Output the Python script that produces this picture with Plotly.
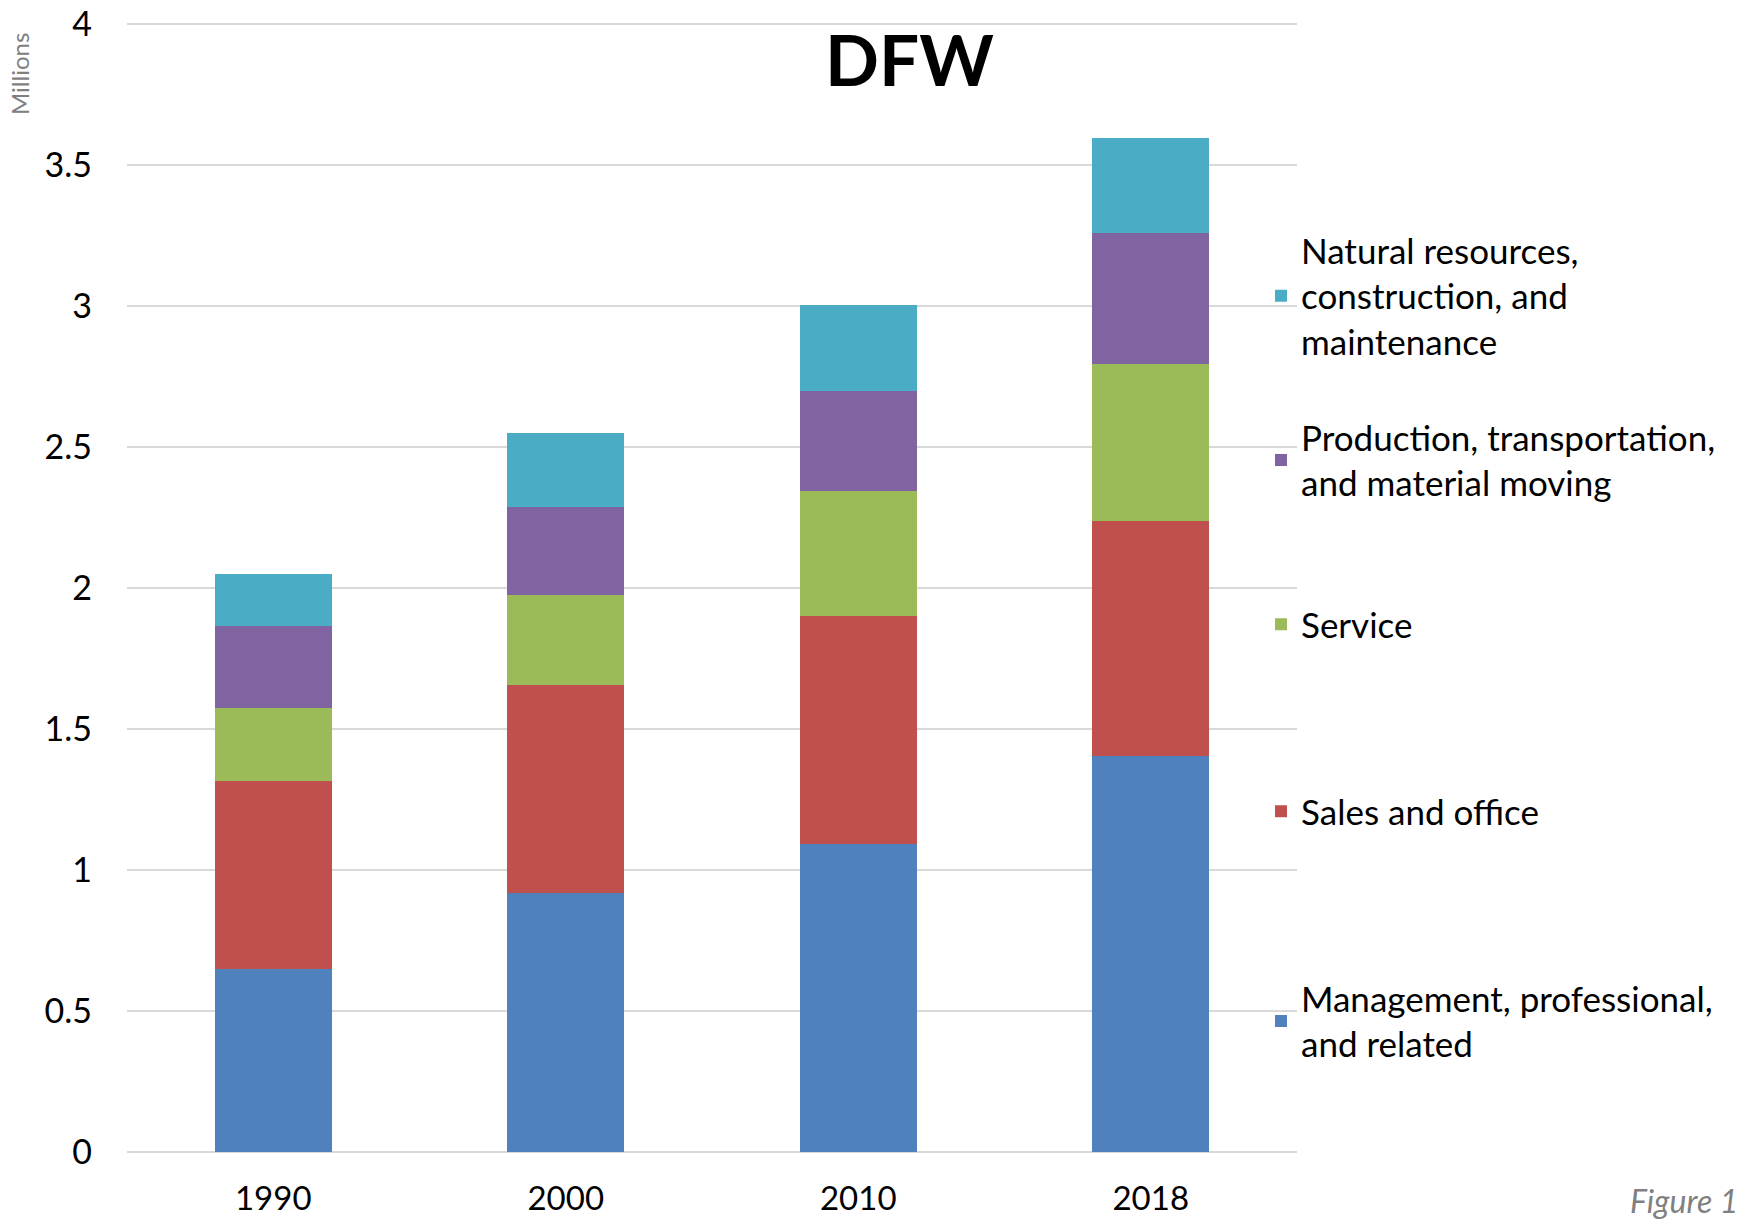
import plotly.graph_objects as go

# Occupation employment in DFW, millions of workers
YEARS = ["1990", "2000", "2010", "2018"]
MANAGEMENT = [0.648, 0.920, 1.092, 1.404]
SALES = [0.667, 0.736, 0.808, 0.833]
SERVICE = [0.258, 0.319, 0.445, 0.556]
PRODUCTION = [0.291, 0.313, 0.354, 0.464]
NATURAL = [0.187, 0.262, 0.305, 0.338]

SERIES = [
    ("Management, professional,<br>and related", MANAGEMENT, "#4F81BD"),
    ("Sales and office", SALES, "#C0504D"),
    ("Service", SERVICE, "#9BBB59"),
    ("Production, transportation,<br>and material moving", PRODUCTION, "#8064A2"),
    ("Natural resources,<br>construction, and<br>maintenance", NATURAL, "#4BACC6"),
]

FONT = "Lato, 'Open Sans', sans-serif"

W, H = 1738, 1219
PLOT_L, PLOT_R, PLOT_T, PLOT_B = 127, 1297, 21, 1152


def px_x(x):
    return (x - PLOT_L) / (PLOT_R - PLOT_L)


def px_y(y):
    return (PLOT_B - y) / (PLOT_B - PLOT_T)


fig = go.Figure()

legend_names = ["legend5", "legend4", "legend3", "legend2", "legend"]
for (name, vals, color), lg in zip(SERIES, legend_names):
    fig.add_trace(
        go.Bar(
            x=YEARS,
            y=vals,
            name=name,
            marker=dict(color=color, line=dict(width=0)),
            legend=lg,
        )
    )

# One legend per series so the entries can be spaced like the original
first_line_px = [252, 439, 626, 813, 1000]
legends = {}
for lg, ypx in zip(["legend", "legend2", "legend3", "legend4", "legend5"], first_line_px):
    legends[lg] = dict(
        x=px_x(1261),
        xanchor="left",
        y=px_y(ypx - 31),
        yanchor="top",
        font=dict(family=FONT, size=35, color="#000000"),
        bgcolor="rgba(0,0,0,0)",
    )

fig.update_layout(
    width=W,
    height=H,
    barmode="stack",
    bargap=0.6,
    plot_bgcolor="white",
    paper_bgcolor="white",
    margin=dict(l=PLOT_L, r=W - PLOT_R, t=PLOT_T, b=H - PLOT_B, autoexpand=False),
    font=dict(family=FONT, color="#000000"),
    showlegend=True,
    **legends,
)

fig.update_xaxes(
    showgrid=False,
    showline=False,
    ticks="",
    tickfont=dict(family=FONT, size=33, color="#000000"),
    ticklabelstandoff=24,
    ticklabeloverflow="allow",
)
fig.update_yaxes(
    range=[0, 4.01],
    tickvals=[0, 0.5, 1, 1.5, 2, 2.5, 3, 3.5, 4],
    ticktext=["0", "0.5", "1", "1.5", "2", "2.5", "3", "3.5", "4"],
    showgrid=True,
    gridcolor="#D9D9D9",
    gridwidth=2,
    zeroline=True,
    zerolinecolor="#D9D9D9",
    zerolinewidth=2,
    showline=False,
    ticks="",
    tickfont=dict(family=FONT, size=34, color="#000000"),
    ticklabelstandoff=34,
    ticklabeloverflow="allow",
)

fig.add_annotation(
    text="<b>DFW</b>",
    xref="paper", yref="paper",
    x=px_x(909), y=px_y(58),
    xanchor="center", yanchor="middle",
    showarrow=False,
    font=dict(family=FONT, size=71, color="#000000"),
)
fig.add_annotation(
    text="Millions",
    xref="paper", yref="paper",
    x=px_x(20), y=px_y(74),
    xanchor="center", yanchor="middle",
    textangle=-90,
    showarrow=False,
    font=dict(family=FONT, size=24, color="#808080"),
)
fig.add_annotation(
    text="Figure 1",
    xref="paper", yref="paper",
    x=px_x(1628), y=px_y(1200),
    xanchor="left", yanchor="middle",
    showarrow=False,
    font=dict(family=FONT, size=32, color="#808080", style="italic"),
)

# drop the default body margin so the figure fills the window exactly
fig.write_html(
    "out.html",
    config={"displayModeBar": False},
    post_script="document.body.style.margin = '0';",
)
